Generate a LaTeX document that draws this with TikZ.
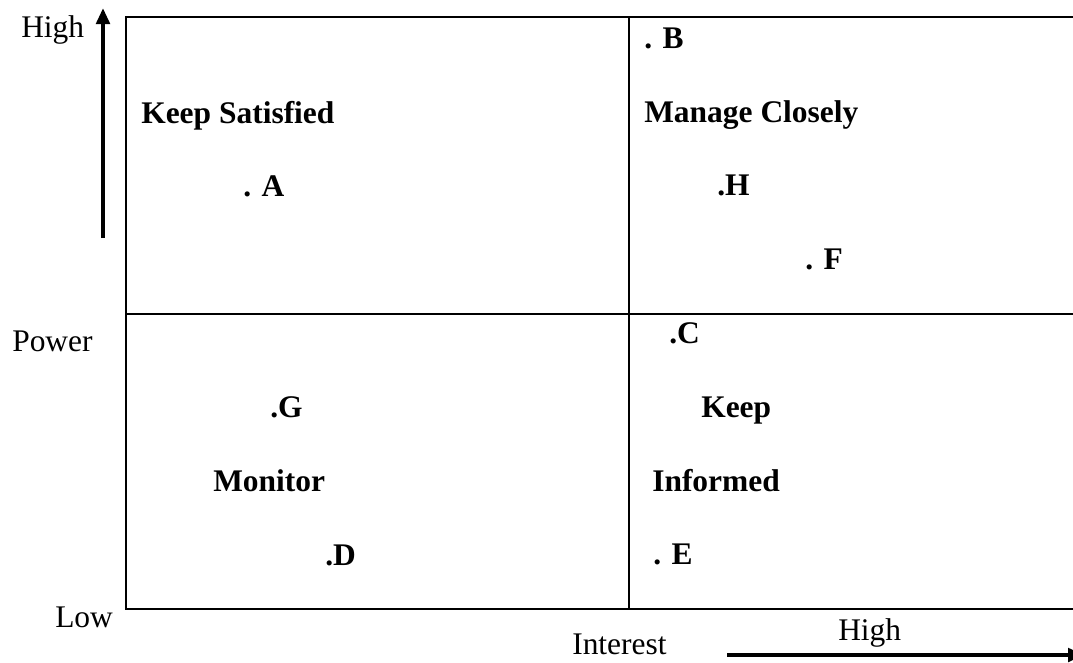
\documentclass[tikz,border=0pt]{standalone}
\usepackage{fontspec}
\setmainfont{Liberation Serif}
\usetikzlibrary{arrows.meta}
\begin{document}
\begin{tikzpicture}[x=0.75pt,y=-0.75pt,
  lbl/.style={anchor=base west,inner sep=0pt,font=\fontsize{23.6}{28}\selectfont},
  blbl/.style={lbl,font=\fontsize{23.6}{28}\selectfont\bfseries},
  grid/.style={line width=1.6pt},
  axis/.style={line width=3pt,-{Triangle[length=12pt,width=10pt]}}]
\useasboundingbox (0,0) rectangle (1073,662);
\clip (0,0) rectangle (1073,662);
% frame
\coordinate (tl) at (126,17);
\coordinate (tr) at (1080,17);
\coordinate (bl) at (126,609);
\coordinate (br) at (1080,609);
\coordinate (mt) at (629,17);
\coordinate (mb) at (629,609);
\coordinate (ml) at (126,314);
\coordinate (mr) at (1080,314);
\draw[grid] (tr) -- (tl) -- (bl) -- (br);
\draw[grid] (mt) -- (mb);
\draw[grid] (ml) -- (mr);
% axes
\coordinate (ya) at (103,238);
\coordinate (yb) at (103,8);
\draw[axis] (ya) -- (yb);
\coordinate (xa) at (727,655);
\coordinate (xb) at (1084,655);
\draw[axis] (xa) -- (xb);
% axis labels
\node[lbl] (high1) at (21,37) {High};
\node[lbl] (power) at (12,351) {Power};
\node[lbl] (low) at (55,627) {Low};
\node[lbl] (interest) at (572,654) {Interest};
\node[lbl] (high2) at (838,640) {High};
% quadrant texts
\node[blbl] (ks) at (141,123) {Keep Satisfied};
\node[blbl] (A) at (243,196) {. A};
\node[blbl] (B) at (644,48) {. B};
\node[blbl] (mc) at (644,122) {Manage Closely};
\node[blbl] (H) at (717,195) {.H};
\node[blbl] (F) at (805,269) {. F};
\node[blbl] (C) at (669,343) {.C};
\node[blbl] (G) at (270,417) {.G};
\node[blbl] (keep) at (701,417) {Keep};
\node[blbl] (mon) at (213,491) {Monitor};
\node[blbl] (inf) at (652,491) {Informed};
\node[blbl] (D) at (325,565) {.D};
\node[blbl] (E) at (653,564) {. E};
\end{tikzpicture}
\end{document}
